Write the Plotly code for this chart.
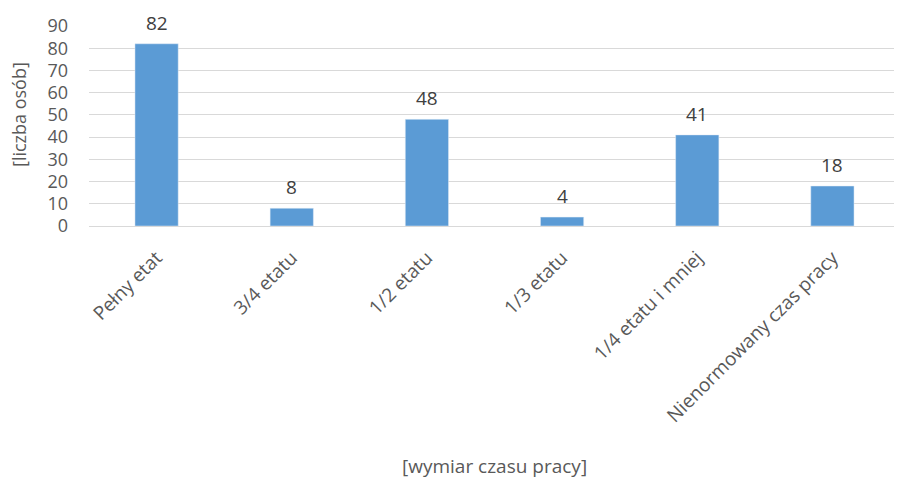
import plotly.graph_objects as go

categories = ["Pełny etat", "3/4 etatu", "1/2 etatu", "1/3 etatu",
              "1/4 etatu i mniej", "Nienormowany czas pracy"]
values = [82, 8, 48, 4, 41, 18]
y_ticks = [0, 10, 20, 30, 40, 50, 60, 70, 80, 90]

font = "Open Sans, Liberation Sans, sans-serif"
grey = "#595959"

fig = go.Figure()
fig.add_trace(go.Bar(
    x=categories, y=values,
    marker=dict(color="#5B9BD5"),
    width=0.32,
))

# value labels above the bars
for c, v in zip(categories, values):
    fig.add_annotation(x=c, y=v, text=str(v), showarrow=False,
                       yanchor="bottom", yshift=6,
                       font=dict(size=19, color="#404040"))

# page body has an 8px margin, so the figure is 8px smaller and shifted
fig.update_layout(
    width=894, height=474,
    margin=dict(l=81, r=2, t=18, b=256),
    plot_bgcolor="white", paper_bgcolor="white",
    showlegend=False,
    font=dict(family=font, color=grey, size=17),
    xaxis=dict(tickangle=-45, tickfont=dict(size=19, color=grey),
               showgrid=False, ticks="", showline=False, automargin=False,
               ticklabelstandoff=16),
    yaxis=dict(range=[0, 90], tickvals=y_ticks, showgrid=True,
               gridcolor="#d9d9d9", gridwidth=1, zeroline=True,
               zerolinecolor="#d9d9d9", zerolinewidth=1,
               tickfont=dict(size=18, color=grey), ticks="",
               ticklabelstandoff=20, automargin=False),
)
fig.add_annotation(text="[wymiar czasu pracy]", xref="paper", yref="paper",
                   x=0.5, y=-1.2, xanchor="center", yanchor="middle",
                   showarrow=False, font=dict(size=19, color=grey))
fig.add_annotation(text="[liczba osób]", xref="paper", yref="paper",
                   x=-0.0863, y=0.555, xanchor="center", yanchor="middle",
                   textangle=-90, showarrow=False, font=dict(size=18, color=grey))

fig.write_html("out.html")
